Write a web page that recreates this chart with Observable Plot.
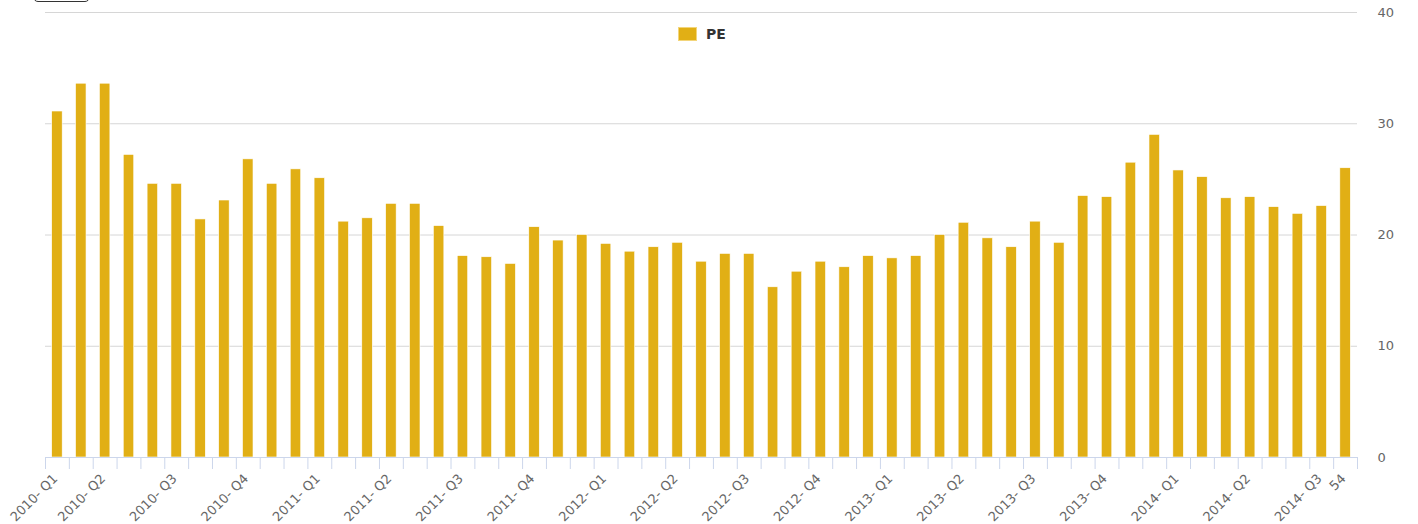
<!DOCTYPE html>
<html>
<head>
<meta charset="utf-8">
<script src="https://cdn.jsdelivr.net/npm/d3@7"></script>
<script src="https://cdn.jsdelivr.net/npm/@observablehq/plot@0.6"></script>
<style>
  html, body { margin: 0; padding: 0; background: #fff; overflow: hidden; }
  #wrap { position: relative; width: 1418px; height: 524px; font-family: "DejaVu Sans", Verdana, sans-serif; }
  #legend { position: absolute; left: 678px; top: 26px; display: flex; align-items: center; gap: 9px; font-size: 14px; font-weight: bold; color: #333; line-height: 16px; }
  #legend .sw { width: 19px; height: 14px; background: #e1af15; box-sizing: border-box; border: 1px solid #f3d57a; }
  #btn { position: absolute; left: 33px; top: -20px; width: 57px; height: 22px; border: 1.5px solid #333; border-radius: 5px; box-sizing: border-box; }
</style>
</head>
<body>
<div id="wrap">
  <div id="btn"></div>
  <div id="chart"></div>
  <div id="legend"><div class="sw"></div><span>PE</span></div>
</div>
<script>
// Quarter index of each bar (0..54)
const barIndex = d3.range(55);
// PE values
const peValues = [
  31.1, 33.6, 33.6, 27.2, 24.6, 24.6, 21.4, 23.1, 26.8, 24.6,
  25.9, 25.1, 21.2, 21.5, 22.8, 22.8, 20.8, 18.1, 18.0, 17.4,
  20.7, 19.5, 20.0, 19.2, 18.5, 18.9, 19.3, 17.6, 18.3, 18.3,
  15.3, 16.7, 17.6, 17.1, 18.1, 17.9, 18.1, 20.0, 21.1, 19.7,
  18.9, 21.2, 19.3, 23.5, 23.4, 26.5, 29.0, 25.8, 25.2, 23.3,
  23.4, 22.5, 21.9, 22.6, 26.0
];
// Labelled ticks
const tickIndex = [0, 2, 5, 8, 11, 14, 17, 20, 23, 26, 29, 32, 35, 38, 41, 44, 47, 50, 53, 54];
const tickLabels = ["2010- Q1", "2010- Q2", "2010- Q3", "2010- Q4", "2011- Q1", "2011- Q2", "2011- Q3", "2011- Q4",
  "2012- Q1", "2012- Q2", "2012- Q3", "2012- Q4", "2013- Q1", "2013- Q2", "2013- Q3", "2013- Q4",
  "2014- Q1", "2014- Q2", "2014- Q3", "54"];
const yTicks = [0, 10, 20, 30, 40];

const data = barIndex.map((i, k) => ({i, pe: peValues[k]}));
const labelOf = new Map(tickIndex.map((t, k) => [t, tickLabels[k]]));
const edges = d3.range(-0.5, 55, 1);
const halfBar = 0.22;

const chart = Plot.plot({
  width: 1418,
  height: 524,
  marginLeft: 45,
  marginRight: 61,
  marginTop: 12,
  marginBottom: 67,
  style: { fontFamily: "DejaVu Sans, Verdana, sans-serif", fontSize: "13px", color: "#666", background: "#fff" },
  x: { type: "linear", domain: [-0.5, 54.5] },
  y: { domain: [0, 40] },
  marks: [
    Plot.ruleY(yTicks.filter(d => d > 0), { stroke: "#d6d6d6", strokeWidth: 1 }),
    Plot.rectY(data, { x1: d => d.i - halfBar, x2: d => d.i + halfBar, y1: 0, y2: "pe", fill: "#e1af15", stroke: "#fff", strokeWidth: 0.6 }),
    Plot.ruleY([0], { stroke: "#ccd6eb", strokeWidth: 1 }),
    Plot.axisX({ ticks: edges, tickSize: 12, tickFormat: () => "", stroke: "#ccd6eb", label: null }),
    Plot.axisX({ ticks: tickIndex, tickSize: 0, tickPadding: 19, tickRotate: -45, tickFormat: d => labelOf.get(d), fill: "#666", fontSize: 13, label: null, dx: -2 }),
    Plot.axisY({ anchor: "right", ticks: yTicks, tickSize: 0, tickPadding: 20, fill: "#666", fontSize: 13, label: null })
  ]
});
document.getElementById("chart").appendChild(chart);
</script>
</body>
</html>
